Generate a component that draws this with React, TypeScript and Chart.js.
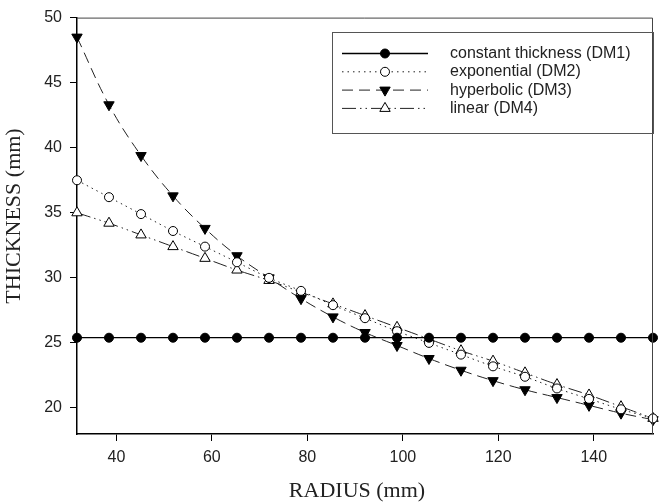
import React, { useEffect, useRef } from 'react';
import { Chart, registerables } from 'chart.js';

Chart.register(...registerables);

// ---------- data ----------
const radiusMm = [31.75, 38.45, 45.16, 51.86, 58.56, 65.26, 71.97, 78.67, 85.37, 92.08, 98.78, 105.48, 112.18, 118.89, 125.59, 132.29, 139.0, 145.7, 152.4];
const constantDM1 = [25.4, 25.4, 25.4, 25.4, 25.4, 25.4, 25.4, 25.4, 25.4, 25.4, 25.4, 25.4, 25.4, 25.4, 25.4, 25.4, 25.4, 25.4, 25.4];
const exponentialDM2 = [37.5, 36.2, 34.9, 33.6, 32.4, 31.2, 30.0, 29.0, 27.9, 26.9, 25.9, 25.0, 24.1, 23.2, 22.4, 21.5, 20.7, 19.9, 19.2];
const hyperbolicDM3 = [48.5, 43.3, 39.4, 36.3, 33.8, 31.7, 30.0, 28.4, 27.0, 25.8, 24.8, 23.8, 22.9, 22.1, 21.4, 20.8, 20.2, 19.6, 19.1];
const linearDM4 = [35.0, 34.2, 33.3, 32.4, 31.5, 30.6, 29.8, 28.9, 28.0, 27.1, 26.2, 25.3, 24.4, 23.6, 22.7, 21.8, 21.0, 20.1, 19.2];

const seriesLabels = ['constant thickness (DM1)', 'exponential (DM2)', 'hyperbolic (DM3)', 'linear (DM4)'];
const xTickValues = [40, 60, 80, 100, 120, 140];
const yTickValues = [20, 25, 30, 35, 40, 45, 50];
const xTitle = 'RADIUS (mm)';
const yTitle = 'THICKNESS (mm)';

const SANS = '"Liberation Sans", Arial, sans-serif';
const SERIF = '"Liberation Serif", "Times New Roman", serif';

function drawMarker(ctx: CanvasRenderingContext2D, ds: any, x: number, y: number) {
  const r = ds.pointRadius;
  ctx.save();
  ctx.setLineDash([]);
  ctx.beginPath();
  if (ds.pointStyle === 'circle') {
    ctx.arc(x, y, r, 0, Math.PI * 2);
  } else {
    let rad = ((ds.pointRotation || 0) * Math.PI) / 180;
    ctx.moveTo(x + Math.sin(rad) * r, y - Math.cos(rad) * r);
    rad += (2 * Math.PI) / 3;
    ctx.lineTo(x + Math.sin(rad) * r, y - Math.cos(rad) * r);
    rad += (2 * Math.PI) / 3;
    ctx.lineTo(x + Math.sin(rad) * r, y - Math.cos(rad) * r);
    ctx.closePath();
  }
  ctx.fillStyle = ds.pointBackgroundColor;
  ctx.fill();
  ctx.lineWidth = ds.pointBorderWidth;
  ctx.strokeStyle = ds.pointBorderColor;
  ctx.stroke();
  ctx.restore();
}

const framePlugin = {
  id: 'frameAndLegend',
  afterDraw(chart: any) {
    const ctx: CanvasRenderingContext2D = chart.ctx;
    const a = chart.chartArea;
    ctx.save();
    // top and right frame
    ctx.strokeStyle = '#444';
    ctx.lineWidth = 1;
    ctx.beginPath();
    ctx.moveTo(a.left, a.top + 0.5);
    ctx.lineTo(a.right - 0.5, a.top + 0.5);
    ctx.lineTo(a.right - 0.5, a.bottom);
    ctx.stroke();

    // axis titles
    ctx.fillStyle = '#222';
    ctx.font = `22px ${SERIF}`;
    ctx.textAlign = 'center';
    ctx.textBaseline = 'middle';
    ctx.fillText(xTitle, 357, 491);
    ctx.save();
    ctx.translate(14.5, 216);
    ctx.rotate(-Math.PI / 2);
    ctx.fillText(yTitle, 0, 0);
    ctx.restore();

    // legend box
    ctx.strokeStyle = '#555';
    ctx.lineWidth = 1;
    ctx.strokeRect(332.5, 32.5, 321, 101);

    chart.data.datasets.forEach((ds: any, i: number) => {
      const y = 53.5 + i * 18.3;
      ctx.save();
      ctx.setLineDash(ds.borderDash || []);
      ctx.strokeStyle = ds.borderColor;
      ctx.lineWidth = ds.borderWidth;
      ctx.beginPath();
      ctx.moveTo(342, y);
      ctx.lineTo(428, y);
      ctx.stroke();
      ctx.restore();
      drawMarker(ctx, ds, 385, y);
      ctx.fillStyle = '#222';
      ctx.font = `16px ${SANS}`;
      ctx.textBaseline = 'middle';
      ctx.textAlign = 'left';
      ctx.fillText(ds.label, 450, y);
    });
    ctx.restore();
  },
};

export default function App() {
  const canvasRef = useRef<HTMLCanvasElement | null>(null);

  useEffect(() => {
    const canvas = canvasRef.current;
    if (!canvas) return;
    const pts = (vals: number[]) => radiusMm.map((r, i) => ({ x: r, y: vals[i] }));

    const chart = new Chart(canvas, {
      type: 'line',
      data: {
        datasets: [
          {
            label: seriesLabels[0],
            data: pts(constantDM1),
            borderColor: '#000',
            borderWidth: 1.3,
            borderDash: [],
            pointStyle: 'circle',
            pointRadius: 4.5,
            pointBackgroundColor: '#000',
            pointBorderColor: '#000',
            pointBorderWidth: 1,
            tension: 0,
          },
          {
            label: seriesLabels[1],
            data: pts(exponentialDM2),
            borderColor: '#222',
            borderWidth: 1,
            borderDash: [1.5, 4],
            pointStyle: 'circle',
            pointRadius: 4.5,
            pointBackgroundColor: '#fff',
            pointBorderColor: '#000',
            pointBorderWidth: 1,
            tension: 0.4,
          },
          {
            label: seriesLabels[2],
            data: pts(hyperbolicDM3),
            borderColor: '#222',
            borderWidth: 1,
            borderDash: [11, 6],
            pointStyle: 'triangle',
            pointRotation: 180,
            pointRadius: 6,
            pointBackgroundColor: '#000',
            pointBorderColor: '#000',
            pointBorderWidth: 1,
            tension: 0.4,
          },
          {
            label: seriesLabels[3],
            data: pts(linearDM4),
            borderColor: '#222',
            borderWidth: 1,
            borderDash: [14, 4, 1.5, 4, 1.5, 4],
            pointStyle: 'triangle',
            pointRotation: 0,
            pointRadius: 6,
            pointBackgroundColor: '#fff',
            pointBorderColor: '#000',
            pointBorderWidth: 1,
            tension: 0.4,
          },
        ] as any,
      },
      options: {
        responsive: false,
        animation: false,
        devicePixelRatio: 1,
        layout: { padding: { top: 16, right: 2, left: 0, bottom: 0 } },
        plugins: { legend: { display: false }, tooltip: { enabled: false } },
        elements: { line: { fill: false } },
        datasets: { line: { clip: false } } as any,
        scales: {
          x: {
            type: 'linear',
            min: 31.75,
            max: 152.4,
            afterBuildTicks: (s: any) => {
              s.ticks = xTickValues.map((v) => ({ value: v }));
            },
            afterFit: (s: any) => {
              s.height = 69;
            },
            grid: { display: true, drawOnChartArea: false, drawTicks: true, tickLength: 7, tickColor: '#000', tickWidth: 1 },
            border: { display: true, color: '#000', width: 1.5 },
            ticks: { font: { family: SANS, size: 16 }, color: '#222', padding: 7, maxRotation: 0, autoSkip: false },
            title: { display: false },
          },
          y: {
            type: 'linear',
            min: 18,
            max: 50,
            afterBuildTicks: (s: any) => {
              s.ticks = yTickValues.map((v) => ({ value: v }));
            },
            afterFit: (s: any) => {
              s.width = 77;
            },
            grid: { display: true, drawOnChartArea: false, drawTicks: true, tickLength: 7, tickColor: '#000', tickWidth: 1 },
            border: { display: true, color: '#000', width: 1.5 },
            ticks: { font: { family: SANS, size: 16 }, color: '#222', padding: 8, autoSkip: false },
            title: { display: false },
          },
        },
      } as any,
      plugins: [framePlugin],
    });
    return () => chart.destroy();
  }, []);

  return (
    <div style={{ position: 'fixed', left: 0, top: 0, width: 660, height: 503, background: '#fff' }}>
      <canvas ref={canvasRef} width={660} height={503} style={{ width: 660, height: 503, display: 'block' }} />
    </div>
  );
}
